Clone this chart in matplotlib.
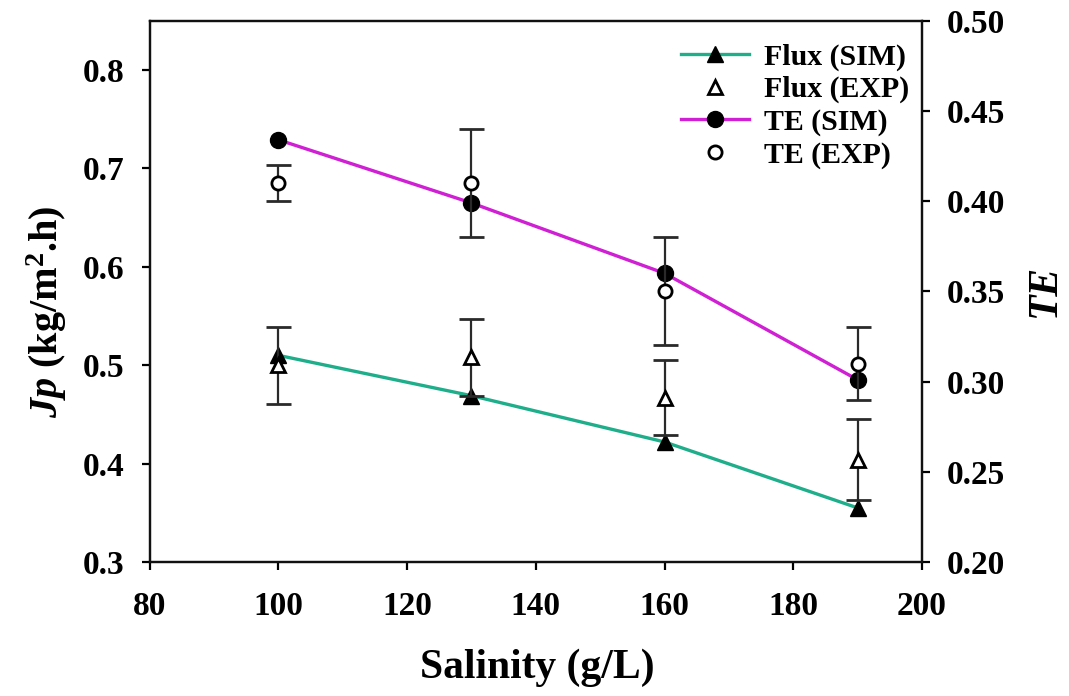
import matplotlib
matplotlib.use("Agg")
import matplotlib.pyplot as plt
from matplotlib.lines import Line2D

plt.rcParams.update({
    "font.family": ["Liberation Serif", "DejaVu Serif"],
    "font.weight": "bold",
    "mathtext.fontset": "custom",
    "mathtext.rm": "Liberation Serif:bold",
    "mathtext.it": "Liberation Serif:italic:bold",
    "mathtext.bf": "Liberation Serif:bold",
})

# Salinity levels (g/L)
salinity = [100, 130, 160, 190]

# Permeate flux Jp (kg/m2.h)
flux_sim = [0.510, 0.469, 0.422, 0.355]
flux_exp = [0.500, 0.508, 0.467, 0.404]
flux_err = [0.039, 0.039, 0.038, 0.041]

# Thermal efficiency
te_sim = [0.434, 0.399, 0.360, 0.301]
te_exp = [0.410, 0.410, 0.350, 0.310]
te_err = [0.010, 0.030, 0.030, 0.020]

x_ticks = [80, 100, 120, 140, 160, 180, 200]
jp_ticks = [0.3, 0.4, 0.5, 0.6, 0.7, 0.8]
te_ticks = [0.20, 0.25, 0.30, 0.35, 0.40, 0.45, 0.50]

GREEN = "#1fae8a"
MAGENTA = "#d020d4"
ECOL = "#2a2a2a"

fig = plt.figure(figsize=(10.69, 6.96), dpi=100)
ax = fig.add_axes([0.1399, 0.1925, 0.7226, 0.7778])
ax2 = ax.twinx()

# flux on the left axis
ax.plot(salinity, flux_sim, color=GREEN, lw=2.4, marker="^", ms=11,
        mfc="black", mec="black", zorder=3)
ax.errorbar(salinity, flux_exp, yerr=flux_err, fmt="^", ms=9.5, mfc="white",
            mec="black", mew=2, ecolor=ECOL, elinewidth=1.6, capsize=9,
            capthick=1.6, zorder=4)

# thermal efficiency on the right axis
ax2.plot(salinity, te_sim, color=MAGENTA, lw=2.4, marker="o", ms=11.5,
         mfc="black", mec="black", zorder=3)
ax2.errorbar(salinity, te_exp, yerr=te_err, fmt="o", ms=9.5, mfc="white",
             mec="black", mew=2, ecolor=ECOL, elinewidth=1.6, capsize=9,
             capthick=1.6, zorder=4)

ax.set_xlim(80, 200)
ax.set_ylim(0.3, 0.85)
ax2.set_ylim(0.2, 0.5)
ax.set_xticks(x_ticks)
ax.set_yticks(jp_ticks)
ax2.set_yticks(te_ticks)
ax.set_yticklabels([f"{v:.1f}" for v in jp_ticks])
ax2.set_yticklabels([f"{v:.2f}" for v in te_ticks])

for a in (ax, ax2):
    for s in a.spines.values():
        s.set_linewidth(1.6)
        s.set_color("#111111")
ax.tick_params(axis="x", direction="out", length=6, width=1.6, pad=15,
               labelsize=24, top=False)
ax.tick_params(axis="y", direction="out", length=6, width=1.6, pad=12,
               labelsize=24, right=False)
ax2.tick_params(axis="y", direction="out", length=6, width=1.6, pad=12,
                labelsize=24)

fig.text(537 / 1069, 1 - 668 / 696, "Salinity (g/L)", ha="center",
         va="center", fontsize=30, fontweight="bold")
fig.text(47 / 1069, 1 - 312 / 696, r"$\mathit{Jp}$ (kg/m$^{\mathregular{2}}$.h)",
         ha="center", va="center", rotation=90, fontsize=29, fontweight="bold")
fig.text(1045 / 1069, 1 - 290 / 696, "TE", ha="center", va="center",
         rotation=90, fontsize=30, fontweight="bold", style="italic")

handles = [
    Line2D([], [], color=GREEN, lw=2.4, marker="^", ms=11, mfc="black", mec="black"),
    Line2D([], [], ls="none", marker="^", ms=9.5, mfc="white", mec="black", mew=2),
    Line2D([], [], color=MAGENTA, lw=2.4, marker="o", ms=11.5, mfc="black", mec="black"),
    Line2D([], [], ls="none", marker="o", ms=9.5, mfc="white", mec="black", mew=2),
]
labels = ["Flux (SIM)", "Flux (EXP)", "TE (SIM)", "TE (EXP)"]
ax2.legend(handles, labels, loc="upper right", bbox_to_anchor=(0.984, 0.958),
           frameon=False, fontsize=21.5, handlelength=2.3, handletextpad=0.5,
           labelspacing=0.18, borderpad=0, borderaxespad=0)

fig.savefig("out.png", dpi=100)
